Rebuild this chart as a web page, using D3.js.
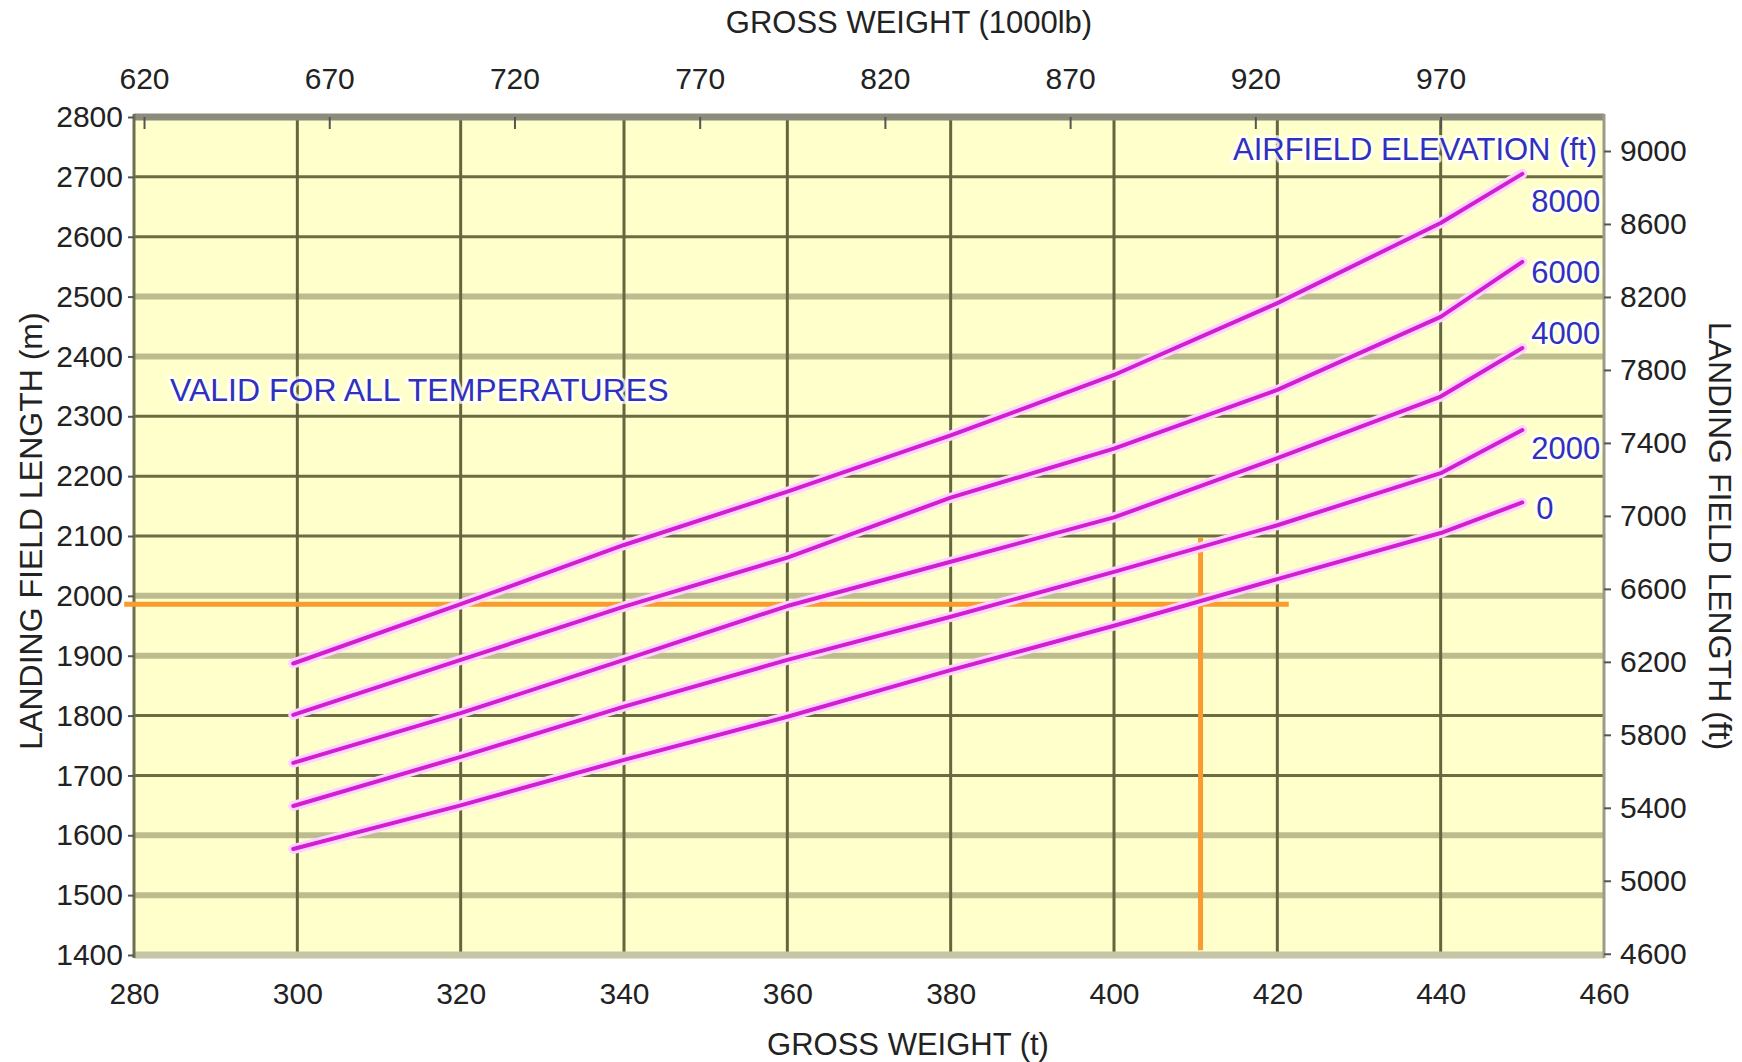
<!DOCTYPE html>
<html>
<head>
<meta charset="utf-8">
<script src="https://cdn.jsdelivr.net/npm/d3@7"></script>
<style>
  body { margin: 0; background: #fff; }
  text { font-family: "Liberation Sans", Arial, sans-serif; }
</style>
</head>
<body>
<svg width="1742" height="1062"></svg>
<script>
// gross weight (t) where each curve is read
var weights = [299.5, 320, 340, 360, 380, 400, 420, 440, 450];

// landing field length (m), one list per airfield elevation
var elevations = ['8000', '6000', '4000', '2000', '0'];
var len8000 = [1887, 1986, 2085, 2174, 2268, 2369, 2489, 2623, 2705];
var len6000 = [1801, 1893, 1982, 2064, 2164, 2246, 2344, 2466, 2558];
var len4000 = [1721, 1804, 1893, 1983, 2057, 2131, 2230, 2333, 2414];
var len2000 = [1649, 1731, 1815, 1893, 1965, 2040, 2118, 2205, 2277];
var len0    = [1577, 1650, 1726, 1798, 1876, 1950, 2028, 2105, 2156];
var labelLengths = [2660, 2541, 2439, 2247, 2147];

// example read-off (orange lines)
var guideWeight = 410.6;
var guideLength = 1986;
var guideHWeights = [278.8, 421.4];
var guideVLengths = [1408, 2097];

// tick labels
var tonneTicks = [280, 300, 320, 340, 360, 380, 400, 420, 440, 460];
var klbTicks = [620, 670, 720, 770, 820, 870, 920, 970];
var meterTicks = [1400, 1500, 1600, 1700, 1800, 1900, 2000, 2100, 2200, 2300, 2400, 2500, 2600, 2700, 2800];
var feetTicks = [4600, 5000, 5400, 5800, 6200, 6600, 7000, 7400, 7800, 8200, 8600, 9000];

var series = [len8000, len6000, len4000, len2000, len0];

var svg = d3.select("svg"),
    plotLeft = 134, plotRight = 1604, plotTop = 117, plotBottom = 955;

var x = d3.scaleLinear().domain([280, 460]).range([plotLeft, plotRight]);
var xLb = d3.scaleLinear().domain([280 * 2.20462, 460 * 2.20462]).range([plotLeft, plotRight]);
var y = d3.scaleLinear().domain([1400, 2800]).range([plotBottom, plotTop]);
var yFt = d3.scaleLinear().domain([1400 * 3.28084, 2800 * 3.28084]).range([plotBottom, plotTop]);

// light (blurred) horizontal rules, as they look in the scan
var lightRules = [1400, 1500, 1600, 1900, 2000, 2400, 2500];

svg.append("defs").append("clipPath").attr("id", "plotClip")
    .append("rect")
    .attr("x", plotLeft).attr("y", plotTop)
    .attr("width", plotRight - plotLeft).attr("height", plotBottom - plotTop);

svg.append("rect")
    .attr("x", plotLeft).attr("y", plotTop)
    .attr("width", plotRight - plotLeft).attr("height", plotBottom - plotTop)
    .style("fill", "#ffffcc");

// grid
svg.append("g").selectAll("line")
    .data(meterTicks.filter(function(d) { return d > 1400 && d < 2800; }))
    .enter().append("line")
    .attr("x1", plotLeft).attr("x2", plotRight)
    .attr("y1", function(d) { return y(d); })
    .attr("y2", function(d) { return y(d); })
    .style("stroke", function(d) { return lightRules.indexOf(d) >= 0 ? "#bcbc8e" : "#6c6c42"; })
    .style("stroke-width", function(d) { return lightRules.indexOf(d) >= 0 ? 6 : 3; });

svg.append("g").selectAll("line")
    .data(tonneTicks.filter(function(d) { return d > 280 && d < 460; }))
    .enter().append("line")
    .attr("x1", function(d) { return x(d); })
    .attr("x2", function(d) { return x(d); })
    .attr("y1", plotTop).attr("y2", plotBottom)
    .style("stroke", "#66663e")
    .style("stroke-width", 3);

// frame
svg.append("line").attr("x1", plotLeft).attr("x2", plotRight).attr("y1", plotTop).attr("y2", plotTop)
    .style("stroke", "#8c8c7c").style("stroke-width", 7);
svg.append("line").attr("x1", plotLeft).attr("x2", plotRight).attr("y1", plotBottom).attr("y2", plotBottom)
    .style("stroke", "#c6c6a6").style("stroke-width", 7);
svg.append("line").attr("x1", plotLeft).attr("x2", plotLeft).attr("y1", plotTop - 3).attr("y2", plotBottom + 3)
    .style("stroke", "#6e6e50").style("stroke-width", 3);
svg.append("line").attr("x1", plotRight).attr("x2", plotRight).attr("y1", plotTop - 3).attr("y2", plotBottom + 3)
    .style("stroke", "#9c9c86").style("stroke-width", 3);

// axes
function styleAxis(g) {
    g.select(".domain").remove();
    g.selectAll("text").style("font-size", "30px").style("fill", "#222")
        .style("font-family", "'Liberation Sans', Arial, sans-serif");
    g.selectAll("line").style("stroke", "#555").style("stroke-width", 2);
}

var fmt = d3.format("d");

svg.append("g").attr("transform", "translate(0," + plotBottom + ")")
    .call(d3.axisBottom(x).tickValues(tonneTicks).tickFormat(fmt).tickSize(0).tickPadding(28))
    .call(styleAxis);

svg.append("g").attr("transform", "translate(0," + plotTop + ")")
    .call(d3.axisTop(xLb).tickValues(klbTicks).tickFormat(fmt).tickSize(-12).tickPadding(28))
    .call(styleAxis);

svg.append("g").attr("transform", "translate(" + plotLeft + ",0)")
    .call(d3.axisLeft(y).tickValues(meterTicks).tickFormat(fmt).tickSize(6).tickPadding(5))
    .call(styleAxis);

svg.append("g").attr("transform", "translate(" + plotRight + ",0)")
    .call(d3.axisRight(yFt).tickValues(feetTicks).tickFormat(fmt).tickSize(7).tickPadding(9))
    .call(styleAxis);

// axis titles
svg.append("text").attr("x", 909).attr("y", 33)
    .attr("text-anchor", "middle")
    .style("font-size", "31px").style("fill", "#222")
    .text("GROSS WEIGHT (1000lb)");

svg.append("text").attr("x", 908).attr("y", 1055)
    .attr("text-anchor", "middle")
    .style("font-size", "31px").style("fill", "#222")
    .text("GROSS WEIGHT (t)");

svg.append("text")
    .attr("transform", "translate(42,531) rotate(-90)")
    .attr("text-anchor", "middle")
    .style("font-size", "32px").style("fill", "#222")
    .text("LANDING FIELD LENGTH (m)");

svg.append("text")
    .attr("transform", "translate(1709,536) rotate(90)")
    .attr("text-anchor", "middle")
    .style("font-size", "32px").style("fill", "#222")
    .text("LANDING FIELD LENGTH (ft)");

// orange read-off lines
svg.append("line")
    .attr("x1", x(guideHWeights[0])).attr("x2", x(guideHWeights[1]))
    .attr("y1", y(guideLength)).attr("y2", y(guideLength))
    .style("stroke", "#f99b2e").style("stroke-width", 5);

svg.append("line")
    .attr("x1", x(guideWeight)).attr("x2", x(guideWeight))
    .attr("y1", y(guideVLengths[0])).attr("y2", y(guideVLengths[1]))
    .style("stroke", "#f99b2e").style("stroke-width", 5);

// curves
var line = d3.line()
    .x(function(d) { return x(d[0]); })
    .y(function(d) { return y(d[1]); })
    .curve(d3.curveLinear);

var curves = svg.append("g");
series.forEach(function(s) {
    var pts = weights.map(function(w, i) { return [w, s[i]]; });
    curves.append("path").attr("d", line(pts))
        .style("fill", "none").style("stroke", "#ffd2ff").style("stroke-width", 10)
        .style("stroke-linejoin", "round").style("stroke-linecap", "round");
});
series.forEach(function(s) {
    var pts = weights.map(function(w, i) { return [w, s[i]]; });
    curves.append("path").attr("d", line(pts))
        .style("fill", "none").style("stroke", "#d01ed0").style("stroke-width", 4)
        .style("stroke-linejoin", "round").style("stroke-linecap", "round");
});

// blue annotations
var notes = svg.append("g").attr("clip-path", "url(#plotClip)");

function blueText(sel) {
    sel.style("font-size", "31px").style("fill", "#3030c0")
        .style("stroke", "#ffffff").style("stroke-width", 6).style("stroke-opacity", 0.75)
        .style("stroke-linejoin", "round").style("paint-order", "stroke");
}

notes.append("text").attr("x", 170).attr("y", 401)
    .text("VALID FOR ALL TEMPERATURES").call(blueText)
    .style("font-size", "32px");

notes.append("text").attr("x", 1597).attr("y", 160)
    .attr("text-anchor", "end")
    .text("AIRFIELD ELEVATION (ft)").call(blueText);

notes.selectAll(".elev")
    .data(elevations)
    .enter().append("text")
    .attr("class", "elev")
    .attr("x", function(d) { return d === '0' ? x(450) + 14 : x(450) + 9; })
    .attr("y", function(d, i) { return y(labelLengths[i]); })
    .attr("dy", "0.36em")
    .text(function(d) { return d; })
    .call(blueText);
</script>
</body>
</html>
